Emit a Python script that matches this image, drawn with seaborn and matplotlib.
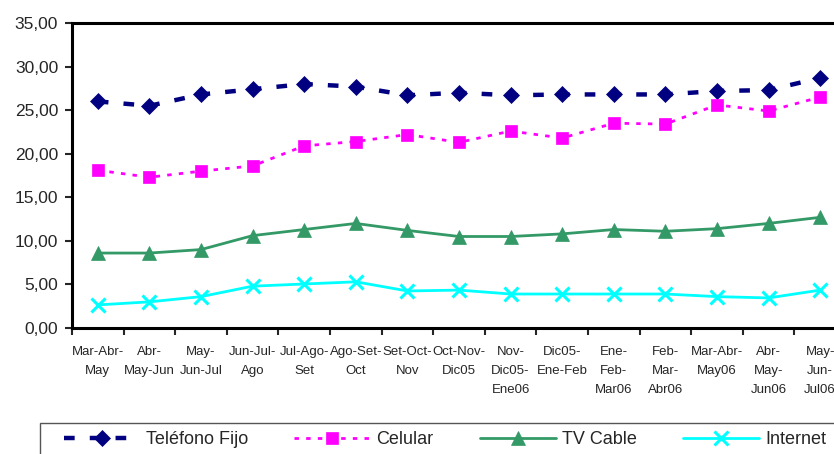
import matplotlib
matplotlib.use('Agg')
import matplotlib.pyplot as plt
from matplotlib.patches import Rectangle
import seaborn as sns
import pandas as pd
import numpy as np

# periods (trimestres móviles)
periodos = [
    "Mar-Abr-\nMay", "Abr-\nMay-Jun", "May-\nJun-Jul", "Jun-Jul-\nAgo",
    "Jul-Ago-\nSet", "Ago-Set-\nOct", "Set-Oct-\nNov", "Oct-Nov-\nDic05",
    "Nov-\nDic05-\nEne06", "Dic05-\nEne-Feb", "Ene-\nFeb-\nMar06",
    "Feb-\nMar-\nAbr06", "Mar-Abr-\nMay06", "Abr-\nMay-\nJun06",
    "May-\nJun-\nJul06",
]

telefono_fijo = [26.0, 25.5, 26.8, 27.4, 28.0, 27.7, 26.7, 27.0, 26.7, 26.8, 26.8, 26.8, 27.2, 27.3, 28.7]
celular = [18.1, 17.3, 18.0, 18.6, 20.9, 21.4, 22.2, 21.3, 22.6, 21.8, 23.5, 23.4, 25.6, 24.9, 26.5]
tv_cable = [8.6, 8.6, 9.0, 10.6, 11.3, 12.0, 11.2, 10.5, 10.5, 10.8, 11.3, 11.1, 11.4, 12.0, 12.7]
internet = [2.65, 3.0, 3.6, 4.8, 5.05, 5.3, 4.25, 4.35, 3.9, 3.9, 3.9, 3.9, 3.6, 3.45, 4.35]

series = {
    "Teléfono Fijo": telefono_fijo,
    "Celular": celular,
    "TV Cable": tv_cable,
    "Internet": internet,
}

estilos = {
    "Teléfono Fijo": dict(color="#000080", lw=3.2, ls=(0, (2.4, 3.4)), marker="D", ms=8),
    "Celular": dict(color="#FF00FF", lw=2.0, ls=(0, (1.6, 2.6)), marker="s", ms=9),
    "TV Cable": dict(color="#339966", lw=2.0, ls="-", marker="^", ms=10),
    "Internet": dict(color="#00FFFF", lw=2.0, ls="-", marker="x", ms=10, mew=2.2),
}

sns.set_style("white")
plt.rcParams['font.family'] = ['Liberation Sans Narrow', 'Liberation Sans', 'DejaVu Sans']

fig = plt.figure(figsize=(8.34, 4.54), dpi=100)
ax = fig.add_axes([72 / 834, 126 / 454, 774 / 834, 305 / 454])

x = np.arange(len(periodos))
for nombre, valores in series.items():
    st = estilos[nombre]
    df = pd.DataFrame({"x": x, "y": valores})
    sns.lineplot(data=df, x="x", y="y", ax=ax, label=nombre,
                 color=st["color"], linewidth=st["lw"], linestyle=st["ls"],
                 marker=st["marker"], markersize=st["ms"],
                 markeredgewidth=st.get("mew", 0.5),
                 markeredgecolor=st["color"])

ax.set_xlim(-0.5, len(periodos) - 0.5)
ax.set_ylim(0, 35)
ax.set_yticks(np.arange(0, 36, 5))
ax.set_yticklabels([f"{v:.2f}".replace(".", ",") for v in np.arange(0, 36, 5)], fontsize=12.5)
ax.set_xticks(x)
ax.set_xticklabels(periodos, fontsize=9.5, linespacing=1.8)
ax.set_xticks(np.arange(-0.5, len(periodos), 1), minor=True)
ax.tick_params(axis='x', which='major', length=0, pad=13)
ax.tick_params(axis='x', which='minor', length=5, width=1.5, direction='out', bottom=True)
ax.tick_params(axis='y', length=5, width=1.5, direction='out', left=True, pad=5)
ax.set_xlabel("")
ax.set_ylabel("")

for s in ["left", "bottom", "top"]:
    ax.spines[s].set_visible(True)
    ax.spines[s].set_color("black")
    ax.spines[s].set_linewidth(2.2)
ax.spines["right"].set_visible(False)

leg = ax.legend(loc="center left", bbox_to_anchor=(64 / 834, 14 / 454),
                bbox_transform=fig.transFigure, ncol=4, fontsize=13,
                handlelength=4.2, columnspacing=2.55, handletextpad=0.35,
                frameon=False, borderpad=0, borderaxespad=0)

# legend box (runs past the right and bottom edges, as in the original)
marco = Rectangle((40 / 834, -8 / 454), 820 / 834, 39 / 454,
                  transform=fig.transFigure, fill=False,
                  edgecolor="#555555", linewidth=1.0, clip_on=False)
fig.patches.append(marco)

fig.savefig("out.png", dpi=100)
